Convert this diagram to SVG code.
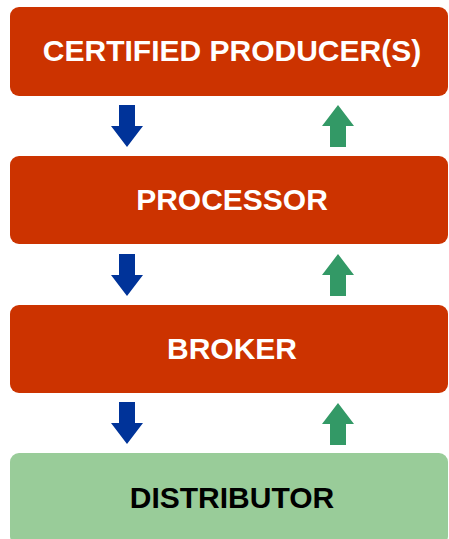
<svg xmlns="http://www.w3.org/2000/svg" width="449" height="539" viewBox="0 0 449 539">
<style>
.box{fill:#CC3300}
.dist{fill:#99CC99}
.t{font-family:"Liberation Sans",Arial,sans-serif;font-weight:bold;font-size:30px;text-anchor:middle;fill:#FFFFFF}
.td{fill:#000000}
.down{fill:#003399}
.up{fill:#339966}
</style>
<defs>
<path id="dn" d="M8,0 H24 V21 H32 L16,42 L0,21 H8 Z"/>
<path id="upa" d="M16,0 L32,21 H24 V42 H8 V21 H0 Z"/>
</defs>
<g id="producer"><rect class="box" x="10" y="7" width="438" height="89" rx="9"/><text class="t" x="232" y="61">CERTIFIED PRODUCER(S)</text></g>
<g id="processor"><rect class="box" x="10" y="156" width="438" height="88" rx="9"/><text class="t" x="232" y="210">PROCESSOR</text></g>
<g id="broker"><rect class="box" x="10" y="305" width="438" height="88" rx="9"/><text class="t" x="232" y="359">BROKER</text></g>
<g id="distributor"><rect class="dist" x="10" y="453" width="438" height="92" rx="9"/><text class="t td" x="232" y="508">DISTRIBUTOR</text></g>
<g id="connectors">
<use href="#dn" class="down" x="111" y="105"/>
<use href="#upa" class="up" x="322" y="105"/>
<use href="#dn" class="down" x="111" y="254"/>
<use href="#upa" class="up" x="322" y="254"/>
<use href="#dn" class="down" x="111" y="402"/>
<use href="#upa" class="up" x="322" y="403"/>
</g>
</svg>
